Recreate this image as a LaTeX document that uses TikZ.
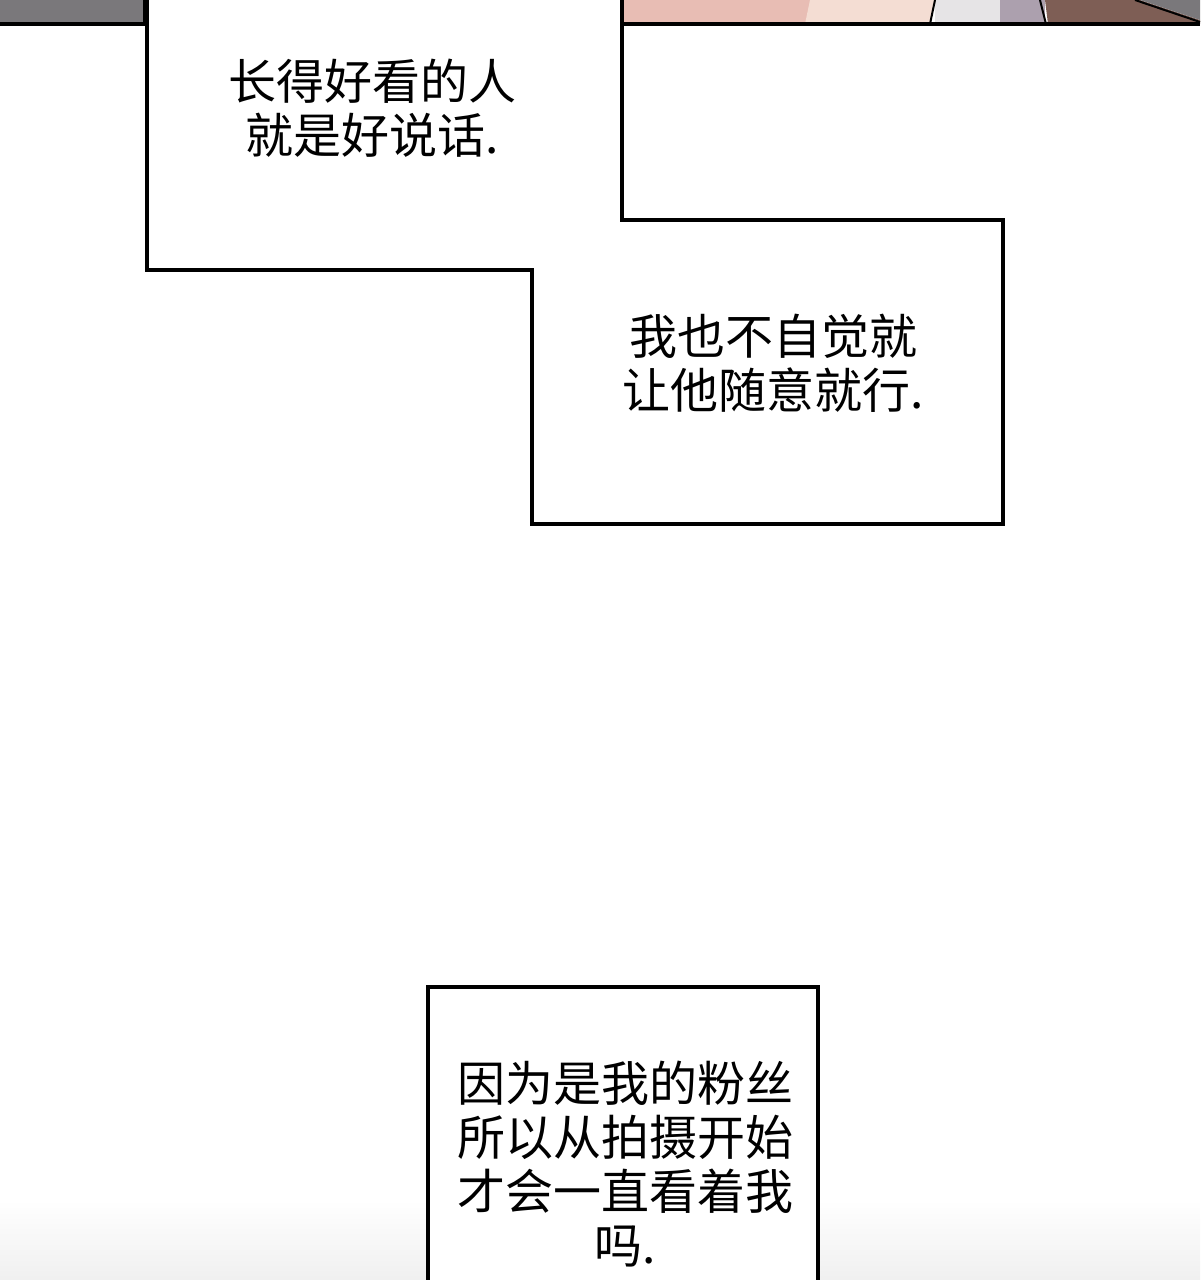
\documentclass[tikz,border=0pt]{standalone}
\usepackage{fontspec}
\newfontfamily\cjk{Noto Sans CJK SC}
\definecolor{panelgrey}{HTML}{7A787B}
\definecolor{skinpink}{HTML}{E8BDB4}
\definecolor{skinlight}{HTML}{F4DDD3}
\definecolor{shirtgrey}{HTML}{E6E4E6}
\definecolor{lavender}{HTML}{ACA0AE}
\definecolor{hairbrown}{HTML}{7E5E55}
\tikzset{
  bubble/.style={draw=black, line width=1.6pt, fill=white},
  speech/.style={align=center, font=\cjk\fontsize{24}{27}\selectfont, inner sep=0pt},
}
\begin{document}
\begin{tikzpicture}[x=0.5pt,y=-0.5pt]
  \useasboundingbox (0,0) rectangle (1200,1280);
  % panels at the top
  \fill[panelgrey] (0,0) rectangle (145,24);
  \draw[line width=2pt] (0,24) -- (145,24) -- (145,0);
  \fill[skinpink] (622,0) rectangle (820,24);
  \fill[skinlight] (810,0) -- (935,0) -- (930,24) -- (805,24) -- cycle;
  \fill[shirtgrey] (935,0) rectangle (1000,24);
  \fill[lavender] (1000,0) rectangle (1045,24);
  \fill[hairbrown] (1045,0) -- (1140,0) -- (1200,20) -- (1200,24) -- (1048,24) -- cycle;
  \fill[panelgrey] (1140,0) -- (1200,0) -- (1200,20) -- cycle;
  \draw[line width=1pt] (935,0) -- (930,24);
  \draw[line width=1pt] (1040,0) -- (1046,24);
  \draw[line width=1pt] (1135,0) -- (1200,22);
  \draw[line width=2pt] (622,24) -- (1200,24);
  % faint shade at the bottom
  \shade[top color=white, bottom color=black!6] (0,1200) rectangle (1200,1280);
  % bubbles
  \draw[bubble] (147,-2) -- (147,270) -- (532,270) -- (532,524) -- (1003,524)
    -- (1003,220) -- (622,220) -- (622,-2);
  \draw[bubble] (428,1282) -- (428,987) -- (818,987) -- (818,1282);
  % texts
  \node[speech] (first) at (372,108) {长得好看的人\\就是好说话.};
  \node[speech] (second) at (773,363) {我也不自觉就\\让他随意就行.};
  \node[speech] (third) at (625,1164) {因为是我的粉丝\\所以从拍摄开始\\才会一直看着我\\吗.};
\end{tikzpicture}
\end{document}
